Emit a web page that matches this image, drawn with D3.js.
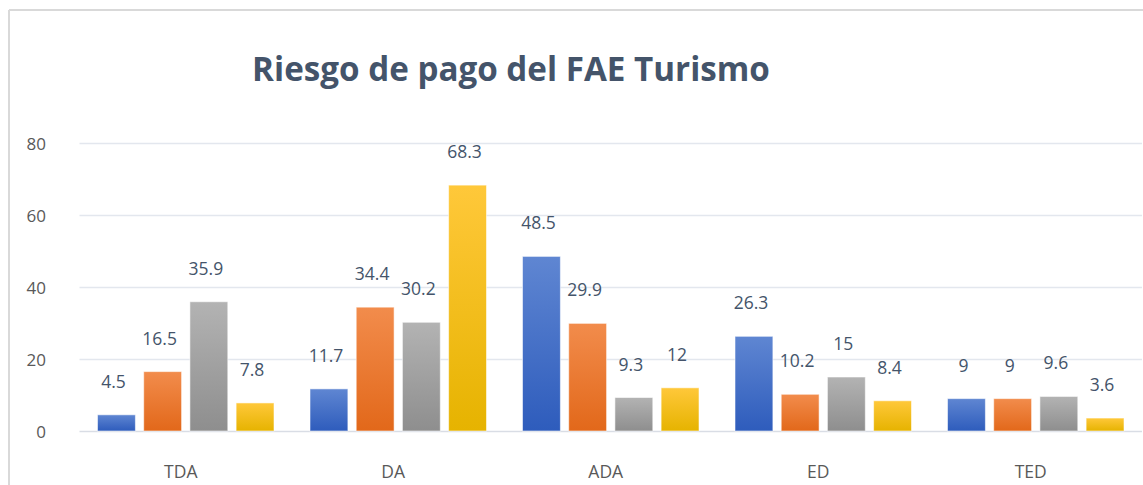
<!DOCTYPE html>
<html><head><meta charset="utf-8">
<script src="https://cdn.jsdelivr.net/npm/d3@7"></script>
<style>body{margin:0;background:#fff;overflow:hidden}svg{display:block}</style>
</head><body>
<svg id="c" width="1143" height="485"></svg>
<script>
const title = "Riesgo de pago del FAE Turismo";
const categories = ["TDA", "DA", "ADA", "ED", "TED"];
const seriesNames = ["S1", "S2", "S3", "S4"];
const s1 = [4.5, 11.7, 48.5, 26.3, 9];
const s2 = [16.5, 34.4, 29.9, 10.2, 9];
const s3 = [35.9, 30.2, 9.3, 15, 9.6];
const s4 = [7.8, 68.3, 12, 8.4, 3.6];
const yTicks = [0, 20, 40, 60, 80];

const series = [s1, s2, s3, s4];
const colors = [
  ["#5f86d2", "#2e5cbc"],
  ["#f28c4c", "#e2681a"],
  ["#b3b3b3", "#8e8e8e"],
  ["#ffc83a", "#e6b300"]
];

const svg = d3.select("#c");
const defs = svg.append("defs");
colors.forEach((c, i) => {
  const g = defs.append("linearGradient").attr("id", "g" + i)
    .attr("x1", 0).attr("y1", 0).attr("x2", 0).attr("y2", 1);
  g.append("stop").attr("offset", "0%").attr("stop-color", c[0]);
  g.append("stop").attr("offset", "100%").attr("stop-color", c[1]);
});

// chart frame
svg.append("line").attr("x1", 9).attr("y1", 10).attr("x2", 1143).attr("y2", 10)
  .attr("stroke", "#d9d9d9").attr("stroke-width", 2);
svg.append("line").attr("x1", 9).attr("y1", 10).attr("x2", 9).attr("y2", 485)
  .attr("stroke", "#d9d9d9").attr("stroke-width", 2);

const pLeft = 79.5, pRight = 1142, pTop = 143, pBottom = 431;
const x0 = d3.scaleBand().domain(categories).range([pLeft, pRight]).paddingInner(0).paddingOuter(0);
const x1 = d3.scaleBand().domain(d3.range(series.length)).range([18, x0.bandwidth() - 18]).paddingInner(0.18);
const y = d3.scaleLinear().domain([0, 80]).range([pBottom, pTop]);

// gridlines
svg.append("g").selectAll("line").data(yTicks).join("line")
  .attr("x1", pLeft).attr("x2", pRight)
  .attr("y1", d => Math.round(y(d)) + 0.5).attr("y2", d => Math.round(y(d)) + 0.5)
  .attr("stroke", d => d === 0 ? "#d9dde5" : "#e3e7ee").attr("stroke-width", 1.5);

// y tick labels
svg.append("g").selectAll("text").data(yTicks).join("text")
  .attr("x", 46).attr("y", d => y(d) + 1).attr("dy", "0.35em")
  .attr("text-anchor", "end")
  .attr("font-family", "'Open Sans', sans-serif").attr("font-size", 17)
  .attr("fill", "#595959").text(d => d);

// category labels
svg.append("g").selectAll("text").data(categories).join("text")
  .attr("x", d => x0(d) + x0.bandwidth() / 2 - 5).attr("y", 478)
  .attr("text-anchor", "middle")
  .attr("font-family", "'Open Sans', sans-serif").attr("font-size", 17.5)
  .attr("fill", "#595959").text(d => d);

// bars
const groups = svg.append("g").selectAll("g").data(categories).join("g")
  .attr("transform", d => `translate(${x0(d)},0)`);
groups.each(function (cat, ci) {
  const g = d3.select(this);
  series.forEach((s, si) => {
    const v = s[ci];
    g.append("rect")
      .attr("x", x1(si)).attr("width", x1.bandwidth())
      .attr("y", y(v)).attr("height", y(0) - y(v))
      .attr("fill", `url(#g${si})`)
      .attr("stroke", "rgba(255,255,255,0.55)").attr("stroke-width", 1);
    g.append("text")
      .attr("x", x1(si) + x1.bandwidth() / 2 - 3)
      .attr("y", y(v) - 27)
      .attr("text-anchor", "middle")
      .attr("font-family", "'Open Sans', sans-serif").attr("font-size", 17.5)
      .attr("fill", "#44546a").text(v);
  });
});

// title
const t = svg.append("text").attr("x", 511).attr("y", 81)
  .attr("text-anchor", "middle")
  .attr("font-family", "'Open Sans', sans-serif").attr("font-weight", 700)
  .attr("font-size", 28).attr("fill", "#44546a").text(title);
const w = t.node().getComputedTextLength();
t.attr("font-size", 28 * 518 / w);
</script>
</body></html>
